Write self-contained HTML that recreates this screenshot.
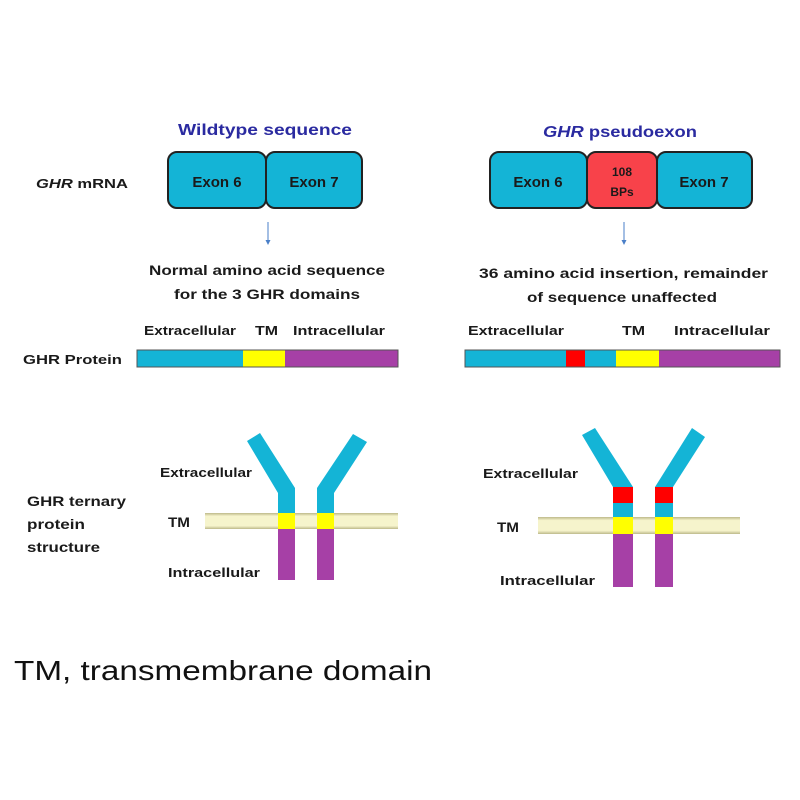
<!DOCTYPE html>
<html><head><meta charset="utf-8"><style>
html,body{margin:0;padding:0;background:#fff;width:800px;height:800px;overflow:hidden}
svg{display:block}
text{font-family:"Liberation Sans",sans-serif;font-weight:bold;fill:#1a1a1a}
</style></head><body>
<svg width="800" height="800" viewBox="0 0 800 800" xmlns="http://www.w3.org/2000/svg">
<defs>
<linearGradient id="mem" x1="0" y1="0" x2="0" y2="1">
<stop offset="0" stop-color="#bdb98a"/><stop offset="0.2" stop-color="#f6f4cc"/><stop offset="0.8" stop-color="#f6f4cc"/><stop offset="1" stop-color="#bdb98a"/>
</linearGradient>
</defs>
<!-- titles -->
<text x="178" y="135" font-size="16" style="fill:#2a2aa0" textLength="174" lengthAdjust="spacingAndGlyphs">Wildtype sequence</text>
<text x="543" y="137" font-size="16" style="fill:#2a2aa0" textLength="154" lengthAdjust="spacingAndGlyphs"><tspan font-style="italic">GHR</tspan> pseudoexon</text>
<!-- left labels -->
<text x="36" y="188" font-size="13" textLength="92" lengthAdjust="spacingAndGlyphs"><tspan font-style="italic">GHR</tspan> mRNA</text>
<text x="23" y="364" font-size="13" textLength="99" lengthAdjust="spacingAndGlyphs">GHR Protein</text>
<text x="27" y="506" font-size="14" textLength="99" lengthAdjust="spacingAndGlyphs">GHR ternary</text>
<text x="27" y="529" font-size="14" textLength="58" lengthAdjust="spacingAndGlyphs">protein</text>
<text x="27" y="552" font-size="14" textLength="73" lengthAdjust="spacingAndGlyphs">structure</text>
<!-- mRNA boxes left -->
<rect x="168" y="152" width="98" height="56" rx="9" fill="#14b4d6" stroke="#222" stroke-width="2"/>
<rect x="266" y="152" width="96" height="56" rx="9" fill="#14b4d6" stroke="#222" stroke-width="2"/>
<text x="217" y="187" font-size="15" text-anchor="middle">Exon 6</text>
<text x="314" y="187" font-size="15" text-anchor="middle">Exon 7</text>
<!-- mRNA boxes right -->
<rect x="490" y="152" width="97" height="56" rx="9" fill="#14b4d6" stroke="#222" stroke-width="2"/>
<rect x="587" y="152" width="70" height="56" rx="9" fill="#f8424a" stroke="#222" stroke-width="2"/>
<rect x="657" y="152" width="95" height="56" rx="9" fill="#14b4d6" stroke="#222" stroke-width="2"/>
<text x="538" y="187" font-size="15" text-anchor="middle">Exon 6</text>
<text x="622" y="176" font-size="12" text-anchor="middle">108</text>
<text x="622" y="196" font-size="12" text-anchor="middle">BPs</text>
<text x="704" y="187" font-size="15" text-anchor="middle">Exon 7</text>
<!-- arrows -->
<line x1="268" y1="222" x2="268" y2="243" stroke="#4a7fc8" stroke-width="1"/>
<path d="M265.5 240 L268 245 L270.5 240 Z" fill="#4a7fc8"/>
<line x1="624" y1="222" x2="624" y2="243" stroke="#4a7fc8" stroke-width="1"/>
<path d="M621.5 240 L624 245 L626.5 240 Z" fill="#4a7fc8"/>
<!-- descriptions -->
<text x="149" y="275" font-size="14" textLength="236" lengthAdjust="spacingAndGlyphs">Normal amino acid sequence</text>
<text x="174" y="299" font-size="14" textLength="186" lengthAdjust="spacingAndGlyphs">for the 3 GHR domains</text>
<text x="479" y="278" font-size="14" textLength="289" lengthAdjust="spacingAndGlyphs">36 amino acid insertion, remainder</text>
<text x="527" y="302" font-size="14" textLength="190" lengthAdjust="spacingAndGlyphs">of sequence unaffected</text>
<!-- bar labels -->
<text x="144" y="335" font-size="13" textLength="92" lengthAdjust="spacingAndGlyphs">Extracellular</text>
<text x="255" y="335" font-size="13" textLength="23" lengthAdjust="spacingAndGlyphs">TM</text>
<text x="293" y="335" font-size="13" textLength="92" lengthAdjust="spacingAndGlyphs">Intracellular</text>
<text x="468" y="335" font-size="13" textLength="96" lengthAdjust="spacingAndGlyphs">Extracellular</text>
<text x="622" y="335" font-size="13" textLength="23" lengthAdjust="spacingAndGlyphs">TM</text>
<text x="674" y="335" font-size="13" textLength="96" lengthAdjust="spacingAndGlyphs">Intracellular</text>
<!-- protein bars -->
<rect x="137" y="350" width="106" height="17" fill="#14b4d6"/>
<rect x="243" y="350" width="42" height="17" fill="#ffff00"/>
<rect x="285" y="350" width="113" height="17" fill="#a640a6"/>
<rect x="137" y="350" width="261" height="17" fill="none" stroke="#555" stroke-width="1"/>
<rect x="465" y="350" width="101" height="17" fill="#14b4d6"/>
<rect x="566" y="350" width="19" height="17" fill="#ff0000"/>
<rect x="585" y="350" width="31" height="17" fill="#14b4d6"/>
<rect x="616" y="350" width="43" height="17" fill="#ffff00"/>
<rect x="659" y="350" width="121" height="17" fill="#a640a6"/>
<rect x="465" y="350" width="315" height="17" fill="none" stroke="#555" stroke-width="1"/>
<!-- left structure -->
<rect x="205" y="513" width="193" height="16" fill="url(#mem)"/>
<polygon points="278,513 278,493 247,441 260,433 295,488 295,513" fill="#14b4d6"/>
<polygon points="317,513 317,488 353,434 367,442 334,493 334,513" fill="#14b4d6"/>
<rect x="278" y="513" width="17" height="16" fill="#ffff00"/>
<rect x="317" y="513" width="17" height="16" fill="#ffff00"/>
<rect x="278" y="529" width="17" height="51" fill="#a640a6"/>
<rect x="317" y="529" width="17" height="51" fill="#a640a6"/>
<text x="160" y="477" font-size="13" textLength="92" lengthAdjust="spacingAndGlyphs">Extracellular</text>
<text x="168" y="527" font-size="14" textLength="22" lengthAdjust="spacingAndGlyphs">TM</text>
<text x="168" y="577" font-size="13" textLength="92" lengthAdjust="spacingAndGlyphs">Intracellular</text>
<!-- right structure -->
<rect x="538" y="517" width="202" height="17" fill="url(#mem)"/>
<polygon points="613,487 582,435 595,428 633,487" fill="#14b4d6"/>
<polygon points="655,487 692,428 705,437 673,487" fill="#14b4d6"/>
<rect x="613" y="487" width="20" height="16" fill="#ff0000"/>
<rect x="655" y="487" width="18" height="16" fill="#ff0000"/>
<rect x="613" y="503" width="20" height="14" fill="#14b4d6"/>
<rect x="655" y="503" width="18" height="14" fill="#14b4d6"/>
<rect x="613" y="517" width="20" height="17" fill="#ffff00"/>
<rect x="655" y="517" width="18" height="17" fill="#ffff00"/>
<rect x="613" y="534" width="20" height="53" fill="#a640a6"/>
<rect x="655" y="534" width="18" height="53" fill="#a640a6"/>
<text x="483" y="478" font-size="13" textLength="95" lengthAdjust="spacingAndGlyphs">Extracellular</text>
<text x="497" y="532" font-size="14" textLength="22" lengthAdjust="spacingAndGlyphs">TM</text>
<text x="500" y="585" font-size="13" textLength="95" lengthAdjust="spacingAndGlyphs">Intracellular</text>
<!-- caption -->
<text x="14" y="680" font-size="28" style="font-weight:normal;fill:#111" textLength="418" lengthAdjust="spacingAndGlyphs">TM, transmembrane domain</text>
</svg>
</body></html>
